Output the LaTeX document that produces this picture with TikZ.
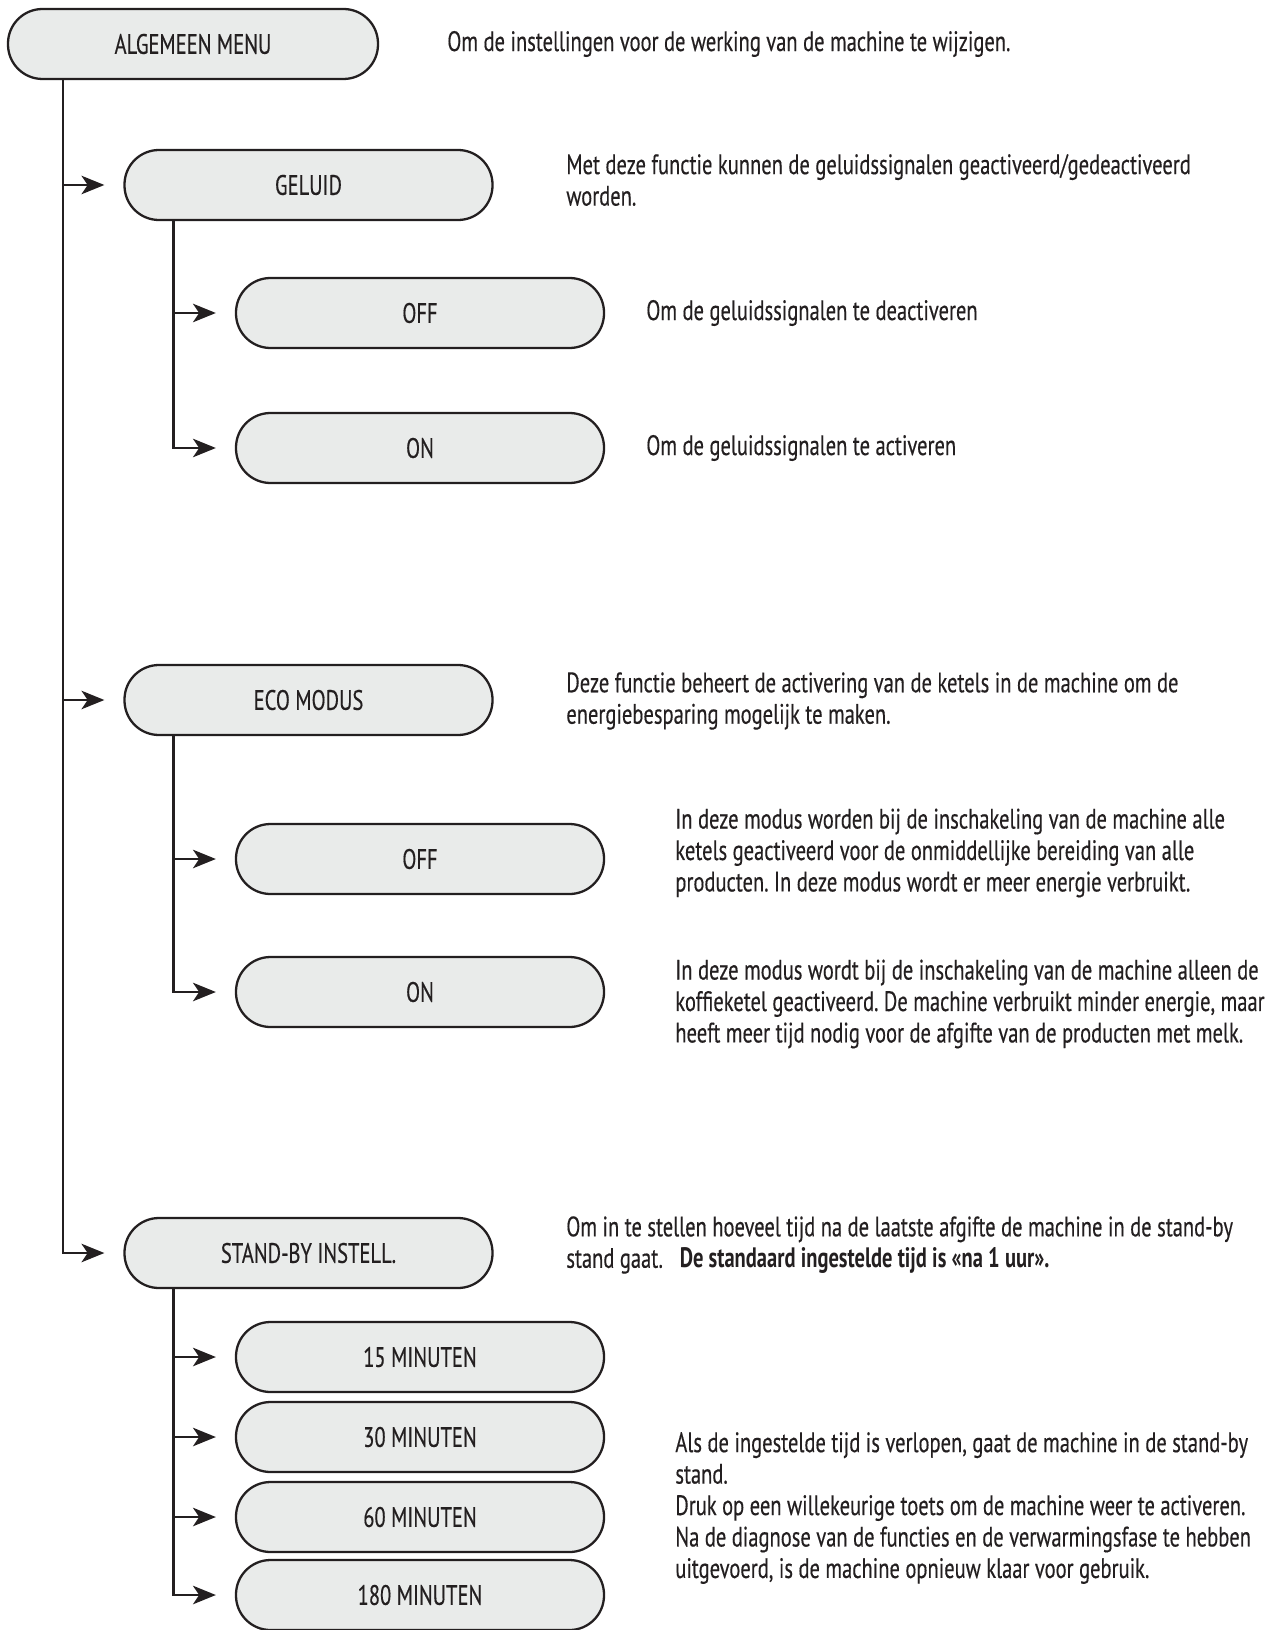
\documentclass[tikz,border=0pt]{standalone}
\usepackage{fontspec}
\setmainfont{PT Sans}[FakeStretch=0.73,UprightFeatures={FakeBold=0.35}]
\usepackage{xcolor}
\usetikzlibrary{arrows.meta,calc,positioning}
\definecolor{Ink}{HTML}{231F20}
\definecolor{PaleGrey}{HTML}{E9EBEA}
\frenchspacing

\begin{document}
\begin{tikzpicture}[
  font=\fontsize{16}{17.9}\selectfont,
  menu/.style={draw=Ink,line width=1.3pt,fill=PaleGrey,rounded corners=0.69cm,
    minimum width=7.36cm,minimum height=1.4cm,inner sep=0pt,text=Ink},
  desc/.style={anchor=west,align=left,text=Ink,inner sep=0pt},
  arr/.style={-{Stealth[length=13pt,width=10.5pt,inset=3.5pt]},line width=1.4pt,color=Ink}
]
\useasboundingbox (0,0) rectangle (25.5,-32.6);

% Main menu and its three entries.
\node[menu,minimum width=7.4cm] (algemeen) at (3.86,-0.88) {ALGEMEEN MENU};
\node[desc] (algemeentext) at (8.94,-0.88)
  {Om de instellingen voor de werking van de machine te wijzigen.};
\coordinate (trunk) at ([xshift=1.12cm]algemeen.south west);

\node[menu] (geluid) at (6.17,-3.70) {GELUID};
\node[desc] (geluidtext) at (11.32,-3.60)
  {Met deze functie kunnen de geluidssignalen geactiveerd/gedeactiveerd\\
   worden.};
\node[menu] (eco) at (6.17,-14.00) {ECO MODUS};
\node[desc] (ecotext) at (11.32,-14.02)
  {Deze functie beheert de activering van de ketels in de machine om de\\
   energiebesparing mogelijk te maken.};
\node[menu] (standby) at (6.17,-25.06) {STAND-BY INSTELL.};
\node[desc] (standbytext) at (11.32,-24.90)
  {Om in te stellen hoeveel tijd na de laatste afgifte de machine in de stand-by\\
   stand gaat.\hspace{0.6em}\textbf{De standaard ingestelde tijd is «na 1 uur».}};

\draw[arr] (trunk |- geluid) -- ([xshift=-0.38cm]geluid.west);
\draw[arr] (trunk |- eco) -- ([xshift=-0.38cm]eco.west);
\draw[arr] (trunk) |- ([xshift=-0.38cm]standby.west);

% Geluid.
\node[menu] (geluidoff) at (8.40,-6.26) {OFF};
\node[desc] (geluidofftext) at (12.92,-6.26) {Om de geluidssignalen te deactiveren};
\node[menu] (geluidon) at (8.40,-8.96) {ON};
\node[desc] (geluidontext) at (12.92,-8.96) {Om de geluidssignalen te activeren};
\coordinate (geluidtrunk) at ([xshift=1.0cm]geluid.south west);
\draw[arr] (geluidtrunk |- geluidoff) -- ([xshift=-0.38cm]geluidoff.west);
\draw[arr] (geluidtrunk) |- ([xshift=-0.38cm]geluidon.west);

% Eco modus.
\node[menu] (ecooff) at (8.40,-17.18) {OFF};
\node[desc] (ecoofftext) at (13.50,-17.06)
  {In deze modus worden bij de inschakeling van de machine alle\\
   ketels geactiveerd voor de onmiddellijke bereiding van alle\\
   producten. In deze modus wordt er meer energie verbruikt.};
\node[menu] (ecoon) at (8.40,-19.84) {ON};
\node[desc] (ecoontext) at (13.50,-20.08)
  {In deze modus wordt bij de inschakeling van de machine alleen de\\
   koffieketel geactiveerd. De machine verbruikt minder energie, maar\\
   heeft meer tijd nodig voor de afgifte van de producten met melk.};
\coordinate (ecotrunk) at ([xshift=1.0cm]eco.south west);
\draw[arr] (ecotrunk |- ecooff) -- ([xshift=-0.38cm]ecooff.west);
\draw[arr] (ecotrunk) |- ([xshift=-0.38cm]ecoon.west);

% Stand-by times.
\foreach \m/\y in {15/27.14,30/28.74,60/30.34,180/31.90}
  \node[menu] (min\m) at (8.40,-\y) {\m{} MINUTEN};
\node[desc] (minutentext) at (13.50,-30.16)
  {Als de ingestelde tijd is verlopen, gaat de machine in de stand-by\\
   stand.\\
   Druk op een willekeurige toets om de machine weer te activeren.\\
   Na de diagnose van de functies en de verwarmingsfase te hebben\\
   uitgevoerd, is de machine opnieuw klaar voor gebruik.};
\coordinate (standbytrunk) at ([xshift=1.0cm]standby.south west);
\foreach \m in {15,30,60}
  \draw[arr] (standbytrunk |- min\m) -- ([xshift=-0.38cm]min\m.west);
\draw[arr] (standbytrunk) |- ([xshift=-0.38cm]min180.west);
\end{tikzpicture}
\end{document}
